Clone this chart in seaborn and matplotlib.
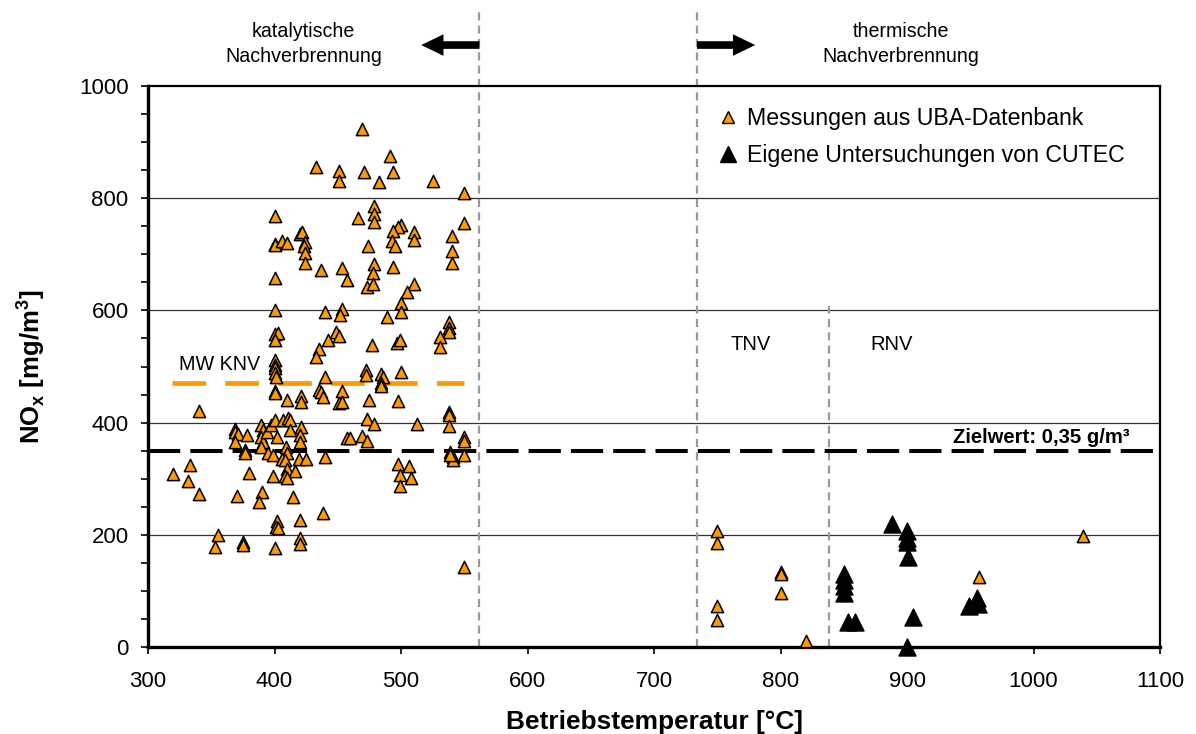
import numpy as np
import pandas as pd
import matplotlib
matplotlib.use("Agg")
import matplotlib.pyplot as plt
from matplotlib.ticker import MultipleLocator
from matplotlib.lines import Line2D
import seaborn as sns

# ---- data -------------------------------------------------------------
uba_temp = [433, 451, 451, 400, 400, 400, 406, 410, 420, 422, 424, 423, 424, 424, 437, 453, 457, 400, 400, 440,
            453, 452, 400, 403, 400, 449, 451, 442, 435, 433, 400, 400, 400, 400, 440,
            469, 491, 471, 494, 483, 525, 550, 479, 479, 479, 466, 550, 500, 498, 494, 510, 510, 493, 495, 540,
            540, 540, 474, 479, 478, 494, 473, 478, 510, 505, 500, 500, 489, 538, 538, 538, 531, 531, 477, 497,
            499, 472, 472, 484, 486, 500, 484, 484,
            401, 400, 400, 410, 421, 421, 435, 437, 438, 453, 451, 453, 340, 369, 369, 371, 378, 369, 377, 377,
            389, 391, 389, 391, 389, 394, 397, 400, 402, 395, 399, 407, 411, 412, 412, 409, 410, 406, 408, 421,
            420, 420, 419, 425, 410, 416, 408, 410, 399, 380, 440, 457, 333, 320, 332, 340, 370, 390, 388, 415,
            438, 402, 401, 403, 420, 420, 420, 355, 353, 375, 375, 400,
            475, 498, 473, 479, 513, 538, 538, 538, 460, 469, 473, 550, 550, 550, 539, 541, 541, 539, 498, 506,
            499, 508, 499, 550,
            750, 750, 750, 750, 800, 800, 800, 820, 957, 1039]
uba_nox = [855, 849, 830, 769, 719, 716, 724, 720, 737, 739, 722, 714, 703, 684, 672, 675, 654, 657, 600, 597,
           602, 592, 558, 560, 548, 562, 554, 548, 532, 517, 512, 503, 497, 488, 482,
           923, 875, 846, 847, 829, 831, 809, 786, 772, 758, 765, 756, 752, 748, 741, 740, 725, 724, 715, 733,
           705, 684, 714, 683, 667, 678, 642, 647, 647, 633, 613, 598, 588, 580, 568, 562, 552, 535, 538, 541,
           547, 494, 485, 487, 482, 491, 470, 465,
           482, 457, 452, 441, 447, 437, 459, 455, 446, 457, 435, 437, 421, 388, 384, 379, 378, 366, 351, 346,
           396, 387, 375, 366, 356, 384, 396, 405, 375, 345, 342, 405, 409, 405, 387, 357, 346, 336, 333, 393,
           378, 366, 336, 336, 317, 314, 304, 302, 304, 311, 339, 372, 324, 308, 296, 273, 270, 276, 258, 268,
           239, 225, 214, 212, 226, 195, 184, 200, 179, 188, 182, 176,
           441, 438, 406, 397, 397, 419, 414, 394, 372, 376, 367, 375, 368, 342, 348, 339, 333, 342, 326, 323,
           307, 301, 287, 143,
           206, 185, 73, 48, 134, 130, 96, 11, 124, 198]

cutec_temp = [888, 900, 900, 900, 901, 850, 850, 850, 850, 853, 859, 905, 900, 949, 955, 956]
cutec_nox = [220, 206, 194, 188, 161, 131, 120, 109, 96, 45, 45, 54, 0, 73, 87, 77]

series_names = ["Messungen aus UBA-Datenbank", "Eigene Untersuchungen von CUTEC"]
mw_knv = 470          # Mittelwert KNV
zielwert = 350        # Zielwert 0,35 g/m3
knv_limit = 562
tnv_limit = 734
rnv_limit = 838
x_ticks = [300, 400, 500, 600, 700, 800, 900, 1000, 1100]
y_ticks = [0, 200, 400, 600, 800, 1000]

# ---- style ------------------------------------------------------------
sns.set_theme(style="white")
plt.rcParams['font.family'] = ['Liberation Sans', 'DejaVu Sans']
plt.rcParams['mathtext.fontset'] = 'custom'
plt.rcParams['mathtext.rm'] = 'Liberation Sans'
plt.rcParams['mathtext.bf'] = 'Liberation Sans:bold'
for k in ['text.color', 'axes.labelcolor', 'xtick.color', 'ytick.color']:
    plt.rcParams[k] = 'black'

ORANGE = "#FF9900"

fig = plt.figure(figsize=(11.96, 7.34), dpi=100)
ax = fig.add_axes([148 / 1196, 1 - 647 / 734, (1160 - 148) / 1196, (647 - 86) / 734])

df_uba = pd.DataFrame({"T": uba_temp, "NOx": uba_nox})
df_cut = pd.DataFrame({"T": cutec_temp, "NOx": cutec_nox})

sns.scatterplot(data=df_uba, x="T", y="NOx", marker="^", s=78, color=ORANGE,
                edgecolor="black", linewidth=1.1, ax=ax, zorder=5, clip_on=False)
sns.scatterplot(data=df_cut, x="T", y="NOx", marker="^", s=150, color="black",
                edgecolor="black", linewidth=1.0, ax=ax, zorder=5, clip_on=False)

ax.set_xlim(300, 1100)
ax.set_ylim(0, 1000)
ax.set_xticks(x_ticks)
ax.set_yticks(y_ticks)
ax.yaxis.set_minor_locator(MultipleLocator(50))
ax.tick_params(axis="both", which="both", direction="out", length=5, width=1.2,
               color="black", labelsize=16, bottom=True, left=True, labelcolor="black")
ax.tick_params(axis="x", pad=12)
ax.tick_params(axis="y", pad=9)

for yv in [200, 400, 600, 800]:
    ax.axhline(yv, color="#333333", lw=0.9, zorder=1)

for side in ["left", "bottom"]:
    ax.spines[side].set_linewidth(2.4)
    ax.spines[side].set_color("black")
for side in ["top", "right"]:
    ax.spines[side].set_linewidth(1.6)
    ax.spines[side].set_color("black")
    ax.spines[side].set_visible(True)

# Vertical boundary lines (extend above the axes)
for xv in [knv_limit, tnv_limit]:
    ax.plot([xv, xv], [0, 1135], color="#999999", lw=1.6, ls=(0, (3.6, 2.4)),
            clip_on=False, zorder=2)
ax.plot([rnv_limit, rnv_limit], [0, 612], color="#999999", lw=1.6, ls=(0, (3.6, 2.4)), zorder=2)

# Mean line KNV and target line
ax.plot([319, 550], [mw_knv, mw_knv], color=ORANGE, lw=3.4, ls=(0, (7.1, 4.1)), zorder=3)
ax.axhline(zielwert, color="black", lw=2.9, ls=(0, (8, 2.5)), zorder=3)

ax.text(324.5, 503.5, "MW KNV", fontsize=14.2, ha="left", va="center")
ax.text(776, 540, "TNV", fontsize=14.5, ha="center", va="center")
ax.text(888, 540, "RNV", fontsize=14.5, ha="center", va="center")
ax.text(1076, 374, "Zielwert: 0,35 g/m³", fontsize=14.6, fontweight="bold",
        ha="right", va="center")

# Top annotations
ax.text(423, 1075, "katalytische\nNachverbrennung", fontsize=14.1, ha="center", va="center",
        linespacing=1.35, clip_on=False)
ax.text(895, 1075, "thermische\nNachverbrennung", fontsize=14.1, ha="center", va="center",
        linespacing=1.35, clip_on=False)
arrow_style = "simple,head_length=1.6,head_width=1.55,tail_width=0.55"
ax.annotate("", xy=(516, 1073), xytext=(knv_limit, 1073), annotation_clip=False,
            arrowprops=dict(arrowstyle=arrow_style, mutation_scale=10, lw=0,
                            color="black", shrinkA=0, shrinkB=0))
ax.annotate("", xy=(780, 1073), xytext=(tnv_limit, 1073), annotation_clip=False,
            arrowprops=dict(arrowstyle=arrow_style, mutation_scale=10, lw=0,
                            color="black", shrinkA=0, shrinkB=0))

ax.set_xlabel("Betriebstemperatur [°C]", fontsize=18.9, fontweight="bold")
ax.set_ylabel(r"NO$_\mathbf{x}$ [mg/m$^\mathbf{3}$]", fontsize=18.5, fontweight="bold")
ax.xaxis.set_label_coords(0.5, -0.112)
ax.yaxis.set_label_coords(-0.100, 0.5)

# Legend
handles = [Line2D([], [], marker="^", ls="none", markersize=8, markerfacecolor=ORANGE,
                  markeredgecolor="black", markeredgewidth=1.0),
           Line2D([], [], marker="^", ls="none", markersize=11, markerfacecolor="black",
                  markeredgecolor="black")]
leg = ax.legend(handles, series_names, loc="upper left", bbox_to_anchor=(0.546, 1.0),
                frameon=False, fontsize=16.7, handlelength=0.6, handletextpad=0.5,
                labelspacing=0.6)
for t in leg.get_texts():
    t.set_color("black")

fig.savefig("out.png", dpi=100)
